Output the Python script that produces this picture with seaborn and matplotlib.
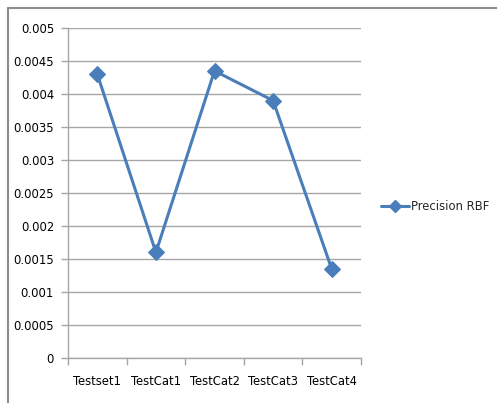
import matplotlib
matplotlib.use("Agg")
import matplotlib.pyplot as plt
from matplotlib import font_manager
from matplotlib.lines import Line2D
from matplotlib.ticker import FixedLocator
import seaborn as sns
import pandas as pd

categories = ["Testset1", "TestCat1", "TestCat2", "TestCat3", "TestCat4"]
precision_rbf = [0.0043, 0.0016, 0.00435, 0.0039, 0.00135]
series_name = "Precision RBF"
y_ticks = [0, 0.0005, 0.001, 0.0015, 0.002, 0.0025, 0.003, 0.0035, 0.004, 0.0045, 0.005]
y_tick_labels = ["0", "0.0005", "0.001", "0.0015", "0.002", "0.0025", "0.003",
                 "0.0035", "0.004", "0.0045", "0.005"]

sns.set_theme(style="white")

# prefer a narrow sans face for the labels when one is installed
narrow = None
for f in font_manager.fontManager.ttflist:
    low = f.fname.lower()
    if ("narrow" in low or "condensed" in low) and "bold" not in low and "oblique" not in low \
            and "italic" not in low and "mono" not in low and "serif" not in low.replace("sans", ""):
        narrow = f
        break
if narrow is not None:
    family = narrow.name
    stretch = narrow.stretch
    size = 9.3
else:
    family = "Liberation Sans"
    stretch = "normal"
    size = 8.8
plt.rcParams["font.family"] = [family, "DejaVu Sans"]
plt.rcParams["font.stretch"] = stretch

line_color = "#4a7ebb"
grid_color = "#a6a6a6"

df = pd.DataFrame({"x": range(len(categories)), "value": precision_rbf})

fig = plt.figure(figsize=(4.97, 4.03), dpi=100)
ax = fig.add_axes([68 / 497, 1 - 358 / 403, (361 - 68) / 497, (358 - 28) / 403])

sns.lineplot(data=df, x="x", y="value", ax=ax, color=line_color, linewidth=2.2,
             marker="D", markersize=8, markeredgecolor=line_color, legend=False)

ax.set_xlim(-0.5, len(categories) - 0.5)
ax.set_ylim(0, 0.005)
ax.set_yticks(y_ticks)
ax.set_yticklabels(y_tick_labels)
ax.set_xticks(range(len(categories)))
ax.set_xticklabels(categories)
ax.xaxis.set_minor_locator(FixedLocator([i - 0.5 for i in range(len(categories) + 1)]))
ax.tick_params(axis="x", which="major", length=0, pad=12, labelsize=size, labelcolor="black")
ax.tick_params(axis="x", which="minor", length=5, width=1, color=grid_color, direction="out")
ax.tick_params(axis="y", which="major", length=5, width=1, color=grid_color, direction="out",
               pad=5, labelsize=size, labelcolor="black")
ax.tick_params(left=True, bottom=True, which="both")
ax.set_xlabel("")
ax.set_ylabel("")

ax.grid(axis="y", color=grid_color, linewidth=1)
ax.set_axisbelow(True)
for side in ["top", "right"]:
    ax.spines[side].set_visible(False)
for side in ["left", "bottom"]:
    ax.spines[side].set_color(grid_color)
    ax.spines[side].set_linewidth(1)

handle = Line2D([], [], color=line_color, linewidth=2.2, marker="D", markersize=6.5)
fig.legend(handles=[handle], labels=[series_name], loc="center left",
           bbox_to_anchor=(381 / 497, 1 - 207 / 403), frameon=False,
           fontsize=size, handlelength=2.2, handletextpad=0.1, borderaxespad=0,
           borderpad=0)

# chart-area frame along the top and left edges
fig.add_artist(Line2D([8 / 497, 1], [1 - 7.5 / 403, 1 - 7.5 / 403], color="#8c8c8c",
                      linewidth=1.5, transform=fig.transFigure))
fig.add_artist(Line2D([8 / 497, 8 / 497], [0, 1 - 7.5 / 403], color="#8c8c8c",
                      linewidth=1.5, transform=fig.transFigure))

fig.savefig("out.png", dpi=100, facecolor="white")
